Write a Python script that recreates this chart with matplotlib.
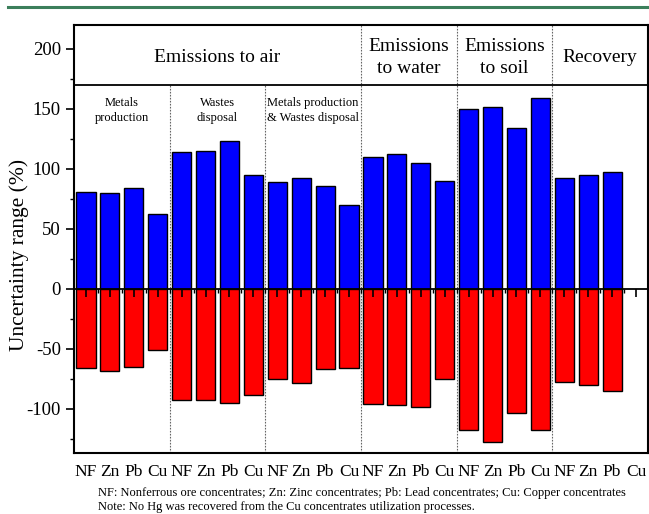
import matplotlib.pyplot as plt
from matplotlib.lines import Line2D
import numpy as np

plt.rcParams['font.family'] = ['Liberation Serif', 'DejaVu Serif']
plt.rcParams['axes.unicode_minus'] = False

# Data
sources = ['NF', 'Zn', 'Pb', 'Cu']
groups = ['Metals production', 'Wastes disposal', 'Metals production & Wastes disposal',
          'Emissions to water', 'Emissions to soil', 'Recovery']
upper = [81, 80, 84, 62,
         114, 115, 123, 95,
         89, 92, 86, 70,
         110, 112, 105, 90,
         150, 152, 134, 159,
         92, 95, 97, np.nan]
lower = [-66, -69, -65, -51,
         -93, -93, -95, -89,
         -75, -79, -67, -66,
         -96, -97, -99, -75,
         -118, -128, -104, -118,
         -78, -80, -85, np.nan]
tick_labels = sources * len(groups)
header_labels = ['Emissions to air', 'Emissions\nto water', 'Emissions\nto soil', 'Recovery']
sub_labels = ['Metals\nproduction', 'Wastes\ndisposal', 'Metals production\n& Wastes disposal']

x = np.arange(1, len(tick_labels) + 1)
ymin, ymax = -137, 220

fig = plt.figure(figsize=(6.49, 5.14), dpi=100)
ax = fig.add_axes([74 / 649, 61 / 514, 574 / 649, 428 / 514])

ax.bar(x, upper, width=0.8, color='#0000ff', edgecolor='black', linewidth=1.0, zorder=2)
ax.bar(x, lower, width=0.8, color='#ff0000', edgecolor='black', linewidth=1.0, zorder=2)

ax.set_xlim(0.5, len(x) + 0.5)
ax.set_ylim(ymin, ymax)

# header band and group separators
ax.axhline(170, color='black', lw=1.3, zorder=3)
for i in range(1, len(groups)):
    xs = i * 4 + 0.5
    top = 170 if i < 3 else ymax
    ax.vlines(xs, ymin, top, colors='#666666', linestyles=(0, (1.5, 1.2)), lw=0.8, zorder=1)

ax.text(6.5, 193, header_labels[0], ha='center', va='center', fontsize=14)
for i, lab in enumerate(header_labels[1:]):
    ax.text(14.5 + 4 * i, 193, lab, ha='center', va='center', fontsize=14, linespacing=1.4)
for i, lab in enumerate(sub_labels):
    ax.text(2.5 + 4 * i, 149, lab, ha='center', va='center', fontsize=9, linespacing=1.35)

# zero line with ticks drawn over the bars
ax.axhline(0, color='black', lw=1.3, zorder=3)
zero_frac = (0 - ymin) / (ymax - ymin)
sec = ax.secondary_xaxis(zero_frac)
sec.set_zorder(5)
sec.set_xticks(x)
sec.set_xticks(x[:-1] + 0.5, minor=True)
sec.tick_params(axis='x', which='major', direction='out', length=6, width=1.2, labelbottom=False, labeltop=False)
sec.tick_params(axis='x', which='minor', direction='out', length=3, width=1.0)
sec.spines['bottom'].set_visible(False)
sec.spines['top'].set_visible(False)

ax.set_xticks(x)
ax.set_xticklabels(tick_labels, fontsize=12.5)
ax.tick_params(axis='x', length=0, pad=8)

ax.set_yticks([-100, -50, 0, 50, 100, 150, 200])
ax.set_yticks([-125, -75, -25, 25, 75, 125, 175], minor=True)
ax.tick_params(axis='y', which='major', direction='out', length=6, width=1.2, labelsize=13.5)
ax.tick_params(axis='y', which='minor', direction='out', length=3, width=1.0)
ax.set_ylabel('Uncertainty range (%)', fontsize=15.5)
ax.yaxis.set_label_coords(-0.078, 0.4626)

for s in ax.spines.values():
    s.set_linewidth(1.5)

fig.add_artist(Line2D([8 / 649, 1], [1 - 7 / 514, 1 - 7 / 514], color='#3c7f5b', lw=2.2))

fig.text(98 / 649, 1 - 487 / 514,
         'NF: Nonferrous ore concentrates; Zn: Zinc concentrates; Pb: Lead concentrates; Cu: Copper concentrates\n'
         'Note: No Hg was recovered from the Cu concentrates utilization processes.',
         ha='left', va='top', fontsize=9, linespacing=1.2)

fig.savefig('out.png', dpi=100)
